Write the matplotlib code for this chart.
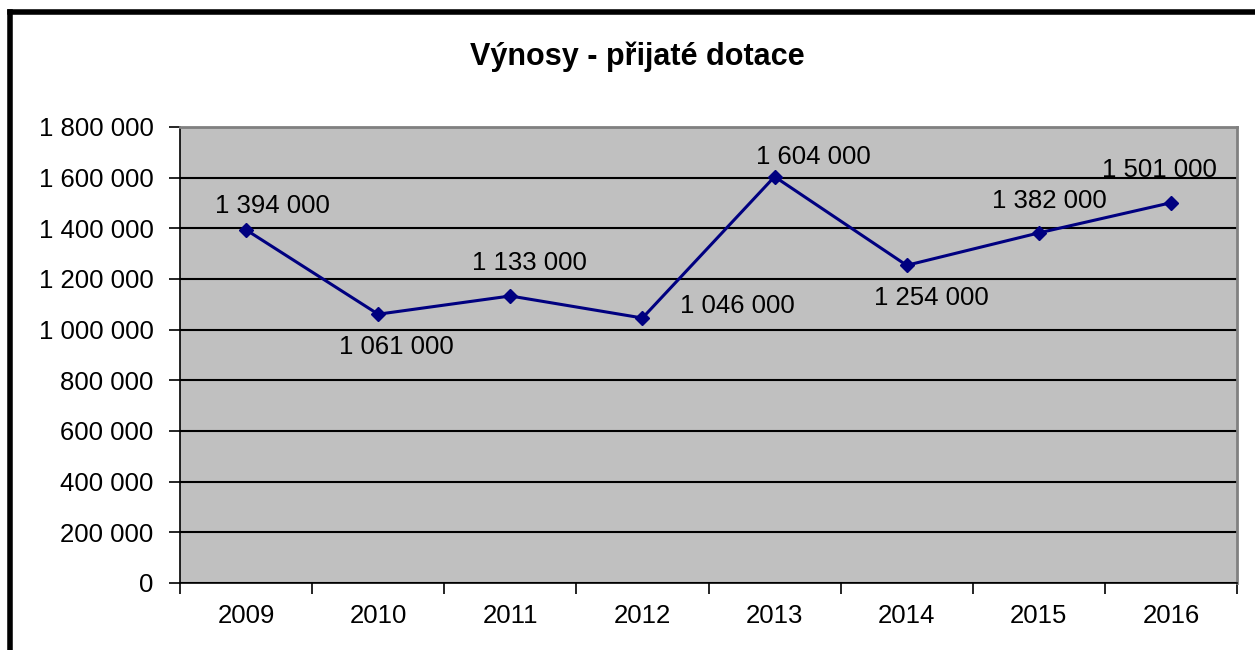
import matplotlib
matplotlib.use("Agg")
import matplotlib.pyplot as plt
from matplotlib.lines import Line2D
from matplotlib.ticker import FuncFormatter, MultipleLocator, FixedLocator

plt.rcParams['font.family'] = ['Liberation Sans', 'DejaVu Sans']

years = ["2009", "2010", "2011", "2012", "2013", "2014", "2015", "2016"]
values = [1394000, 1061000, 1133000, 1046000, 1604000, 1254000, 1382000, 1501000]
title = "Výnosy - přijaté dotace"

# label offsets in pixels (layout only)
label_offsets = [(26, 24), (18, -33), (19, 33), (95, 12), (39, 20), (25, -33), (11, 32), (-12, 33)]

def fmt(v, pos=None):
    return f"{int(v):,}".replace(",", " ")

fig = plt.figure(figsize=(12.55, 6.5), dpi=100)
fig.patch.set_facecolor("white")
ax = fig.add_axes([180/1255, 1 - 583/650, (1237-180)/1255, (583-127)/650])
ax.set_facecolor("#C0C0C0")

x = list(range(len(years)))
ax.plot(x, values, color="#000080", linewidth=2.2, marker="D", markersize=7.5,
        markerfacecolor="#000080", markeredgecolor="#000080", zorder=5)

for xi, v, (dx, dy) in zip(x, values, label_offsets):
    ax.annotate(fmt(v), (xi, v), xytext=(dx, dy), textcoords="offset pixels",
                ha="center", va="center", fontsize=18.5, color="black", zorder=6)

ax.set_xlim(-0.5, len(years) - 0.5)
ax.set_ylim(0, 1800000)
ax.yaxis.set_major_locator(MultipleLocator(200000))
ax.yaxis.set_major_formatter(FuncFormatter(fmt))
ax.grid(axis="y", color="black", linewidth=1.5)
ax.set_axisbelow(True)

ax.set_xticks(x)
ax.set_xticklabels(years)
ax.xaxis.set_minor_locator(FixedLocator([i - 0.5 for i in range(len(years) + 1)]))
ax.tick_params(axis="x", which="major", length=0, pad=15, labelsize=18.5)
ax.tick_params(axis="x", which="minor", length=8, width=1.2, direction="out", color="black")
ax.tick_params(axis="y", which="major", length=8, width=1.2, direction="out", pad=11, labelsize=18.5)

for side in ["top", "right"]:
    ax.spines[side].set_color("#808080")
    ax.spines[side].set_linewidth(2)
for side in ["left", "bottom"]:
    ax.spines[side].set_color("black")
    ax.spines[side].set_linewidth(1.2)

fig.text(637/1255, 1 - 57/650, title, ha="center", va="center",
         fontsize=22, fontweight="bold", color="black")

# figure border (left and top)
fig.add_artist(Line2D([10/1255, 10/1255], [0, 1 - 12/650], transform=fig.transFigure,
                      color="black", linewidth=4, solid_capstyle="projecting"))
fig.add_artist(Line2D([10/1255, 1], [1 - 12/650, 1 - 12/650], transform=fig.transFigure,
                      color="black", linewidth=4, solid_capstyle="projecting"))

fig.savefig("out.png", dpi=100, facecolor="white")
